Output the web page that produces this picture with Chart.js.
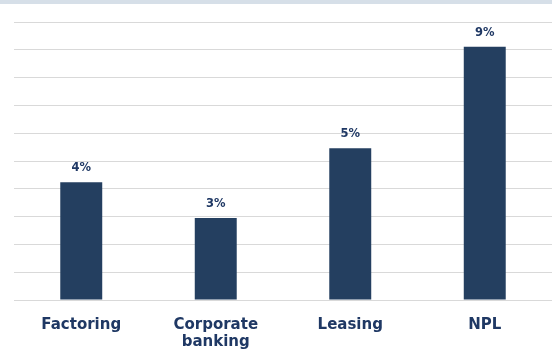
<!DOCTYPE html>
<html>
<head>
<meta charset="utf-8">
<style>
  html, body { margin: 0; padding: 0; background: #ffffff; }
  #wrap { position: relative; width: 552px; height: 351px; }
</style>
<script src="https://cdn.jsdelivr.net/npm/chart.js@4/dist/chart.umd.min.js"></script>
</head>
<body>
<div id="wrap"><canvas id="chart" width="552" height="351"></canvas></div>
<script>
// Share of business by segment (%)
const categories = ['Factoring', ['Corporate', 'banking'], 'Leasing', 'NPL'];
const shares = [4.24, 2.95, 5.46, 9.11];
const yTicks = [0, 1, 2, 3, 4, 5, 6, 7, 8, 9, 10];

const NAVY = '#243f60';
const TEXT = '#1f3864';
const FONT = '"DejaVu Sans", Verdana, sans-serif';

// Thin band along the top edge of the canvas
const topBand = {
  id: 'topBand',
  beforeDraw(chart) {
    const ctx = chart.ctx;
    ctx.save();
    ctx.fillStyle = '#d6dfe8';
    ctx.fillRect(0, 0, chart.width, 4);
    ctx.restore();
  }
};

// Percentage labels above each bar
const valueLabels = {
  id: 'valueLabels',
  afterDatasetsDraw(chart) {
    const ctx = chart.ctx;
    const meta = chart.getDatasetMeta(0);
    ctx.save();
    ctx.fillStyle = TEXT;
    ctx.font = 'bold 11.5px ' + FONT;
    ctx.textAlign = 'center';
    ctx.textBaseline = 'alphabetic';
    meta.data.forEach((bar, i) => {
      const v = chart.data.datasets[0].data[i];
      ctx.fillText(Math.round(v) + '%', bar.x, bar.y - 11);
    });
    ctx.restore();
  }
};

new Chart(document.getElementById('chart'), {
  type: 'bar',
  data: {
    labels: categories,
    datasets: [{
      data: shares,
      backgroundColor: NAVY,
      borderWidth: 0,
      barPercentage: 0.312,
      categoryPercentage: 1.0
    }]
  },
  options: {
    responsive: false,
    animation: false,
    devicePixelRatio: 1,
    layout: { padding: { left: 14, right: 0, top: 22, bottom: 0 } },
    plugins: {
      legend: { display: false },
      tooltip: { enabled: false }
    },
    scales: {
      x: {
        grid: { display: false, drawTicks: false },
        border: { display: false },
        afterFit(scale) { scale.height = 51; },
        ticks: {
          color: TEXT,
          padding: 17,
          font: { family: FONT, size: 15, weight: 'bold', lineHeight: 1.13 }
        }
      },
      y: {
        min: yTicks[0],
        max: yTicks[yTicks.length - 1],
        afterBuildTicks(scale) {
          scale.ticks = yTicks.map(v => ({ value: v }));
        },
        grid: { color: '#d9d9d9', lineWidth: 1, drawTicks: false },
        border: { display: false },
        ticks: { display: false }
      }
    }
  },
  plugins: [topBand, valueLabels]
});
</script>
</body>
</html>
